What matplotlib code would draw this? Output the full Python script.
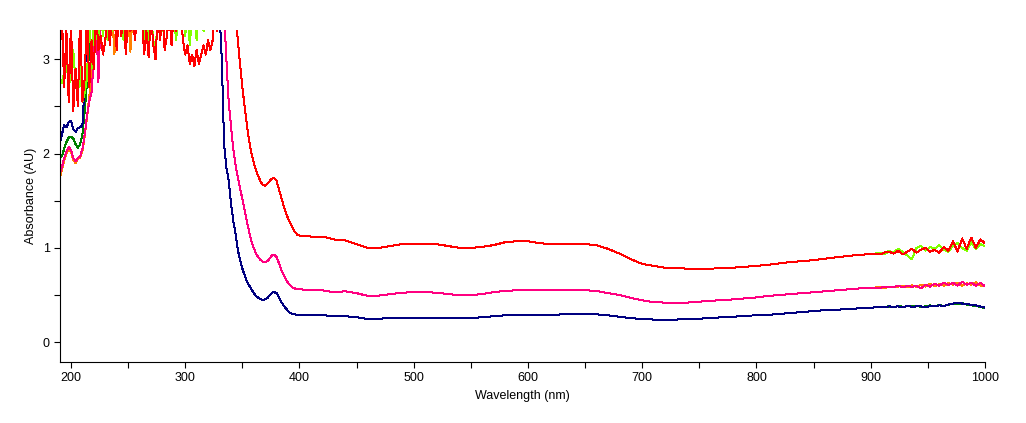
import numpy as np
import matplotlib
matplotlib.use("Agg")
import matplotlib.pyplot as plt
from matplotlib.ticker import MultipleLocator

plt.rcParams['font.family'] = ['Liberation Sans', 'DejaVu Sans']

# wavelength grids (nm)
wl_uv = np.arange(190, 331, 2)     # noisy saturated region
wl_edge = np.arange(332, 401, 2)   # absorption edge
wl_mid = np.arange(410, 901, 10)
wl_ir = np.arange(904, 1001, 4)

# --- top pair (red / light green) ---
red_uv = [3.0, 3.5, 2.7, 3.3, 2.55, 3.4, 2.45, 2.9, 2.5, 3.5,
          2.55, 2.8, 3.5, 2.7, 3.2, 2.9, 3.5, 3.1, 3.25, 3.05,
          3.2, 3.5, 3.15, 3.5, 3.5, 3.1, 3.5, 3.25, 3.5, 3.05,
          3.5, 3.3, 3.5, 3.2, 3.5, 3.5, 3.5, 3.05, 3.3, 3.02,
          3.5, 3.15, 3.0, 3.5, 3.2, 3.5, 3.1, 3.25, 3.5, 3.15,
          3.5, 3.3, 3.5, 3.5, 3.2, 3.05, 3.15, 2.95, 3.05, 2.93,
          3.1, 2.95, 3.05, 3.15, 3.05, 3.2, 3.1, 3.2, 3.5, 3.3,
          3.5]
lgreen_uv = [2.8, 2.75, 2.85, 3.0, 2.7, 2.85, 3.1, 2.75, 2.6, 2.95,
             2.55, 2.65, 2.8, 3.5, 2.9, 3.5, 3.3, 3.15, 3.5, 3.25,
             3.5, 3.2, 3.5, 3.3, 3.5, 3.15, 3.5, 3.5, 3.2, 3.5,
             3.5, 3.5, 3.5, 3.5, 3.5, 3.5, 3.5, 3.2, 3.5, 3.1,
             3.5, 3.2, 3.05, 3.5, 3.5, 3.3, 3.5, 3.5, 3.5, 3.5,
             3.5, 3.2, 3.5, 3.5, 3.5, 3.25, 3.5, 3.15, 3.5, 3.5,
             3.2, 3.5, 3.5, 3.3, 3.5, 3.5, 3.5, 3.5, 3.5, 3.5,
             3.5]
top_edge = [3.5, 3.5, 3.5, 3.5, 3.5, 3.5, 3.5, 3.2, 2.95, 2.7,
            2.5, 2.3, 2.13, 2.0, 1.9, 1.82, 1.76, 1.7, 1.665, 1.66,
            1.68, 1.71, 1.735, 1.74, 1.71, 1.62, 1.54, 1.45, 1.38, 1.31,
            1.26, 1.21, 1.17, 1.14, 1.13]
top_mid = [1.12, 1.12, 1.09, 1.08, 1.04, 1.0, 1.0, 1.02, 1.04, 1.045,
           1.045, 1.04, 1.02, 1.0, 1.0, 1.01, 1.03, 1.06, 1.07, 1.07,
           1.05, 1.04, 1.04, 1.04, 1.04, 1.03, 0.99, 0.94, 0.88, 0.83,
           0.81, 0.79, 0.785, 0.78, 0.78, 0.78, 0.785, 0.79, 0.8, 0.81,
           0.82, 0.835, 0.85, 0.86, 0.87, 0.885, 0.9, 0.915, 0.925, 0.935]
red_ir = [0.94, 0.93, 0.95, 0.96, 0.94, 0.97, 0.93, 0.96, 0.99, 0.95,
          0.98, 1.0, 0.96, 0.98, 0.95, 1.01, 0.97, 1.07, 0.96, 1.1,
          0.99, 1.11, 1.0, 1.09, 1.05]
lgreen_ir = [0.94, 0.95, 0.93, 0.97, 0.95, 0.99, 0.96, 0.92, 0.88, 1.0,
             1.02, 0.97, 1.01, 0.99, 1.03, 0.98, 0.96, 1.02, 1.05, 1.0,
             0.97, 1.06, 0.99, 1.04, 1.02]

# --- middle pair (pink / orange) ---
pink_uv = [1.79, 1.85, 1.95, 2.02, 2.07, 2.04, 1.95, 1.92, 1.95, 1.97,
           2.05, 2.2, 2.4, 2.55, 2.65, 3.0, 3.5, 2.76, 3.5, 3.5,
           3.5, 3.5, 3.5, 3.5, 3.5, 3.2, 3.5, 3.5, 3.5, 3.5,
           3.5, 3.5, 3.5, 3.5, 3.5, 3.5, 3.5, 3.5, 3.5, 3.5,
           3.5, 3.5, 3.5, 3.5, 3.5, 3.5, 3.5, 3.5, 3.5, 3.5,
           3.5, 3.5, 3.5, 3.5, 3.5, 3.5, 3.5, 3.5, 3.5, 3.5,
           3.5, 3.5, 3.5, 3.5, 3.5, 3.5, 3.5, 3.5, 3.5, 3.5,
           3.5]
orange_uv = [1.74, 1.82, 1.93, 2.0, 2.05, 2.02, 1.93, 1.9, 1.94, 1.96,
             2.03, 2.18, 2.38, 2.6, 2.9, 3.5, 3.5, 3.5, 3.5, 3.5,
             3.5, 3.5, 3.5, 3.5, 3.05, 3.5, 3.5, 3.5, 3.5, 3.5,
             3.5, 3.08, 3.5, 3.5, 3.5, 3.5, 3.5, 3.5, 3.5, 3.5,
             3.5, 3.5, 3.5, 3.5, 3.5, 3.5, 3.5, 3.5, 3.5, 3.5,
             3.5, 3.5, 3.5, 3.5, 3.5, 3.5, 3.5, 3.5, 3.5, 3.5,
             3.5, 3.5, 3.5, 3.5, 3.5, 3.5, 3.5, 3.5, 3.5, 3.5,
             3.5]
mid_edge = [3.5, 3.5, 3.0, 2.55, 2.3, 2.05, 1.88, 1.75, 1.63, 1.52,
            1.4, 1.28, 1.17, 1.07, 1.0, 0.94, 0.9, 0.87, 0.855, 0.85,
            0.86, 0.89, 0.92, 0.925, 0.9, 0.84, 0.77, 0.72, 0.67, 0.63,
            0.6, 0.58, 0.57, 0.56, 0.56]
mid_mid = [0.555, 0.55, 0.53, 0.54, 0.52, 0.49, 0.495, 0.51, 0.525, 0.53,
           0.53, 0.525, 0.51, 0.5, 0.5, 0.51, 0.53, 0.545, 0.55, 0.55,
           0.55, 0.55, 0.55, 0.55, 0.55, 0.545, 0.52, 0.5, 0.47, 0.445,
           0.425, 0.42, 0.42, 0.42, 0.43, 0.44, 0.445, 0.455, 0.465, 0.475,
           0.49, 0.5, 0.51, 0.52, 0.53, 0.54, 0.55, 0.56, 0.57, 0.575]
pink_ir = [0.58, 0.575, 0.59, 0.58, 0.585, 0.6, 0.58, 0.6, 0.585, 0.6,
           0.57, 0.61, 0.59, 0.62, 0.6, 0.63, 0.605, 0.63, 0.6, 0.64,
           0.61, 0.63, 0.6, 0.63, 0.595]
orange_ir = [0.58, 0.59, 0.575, 0.59, 0.58, 0.59, 0.6, 0.58, 0.605, 0.585,
             0.61, 0.59, 0.62, 0.595, 0.615, 0.6, 0.625, 0.61, 0.63, 0.6,
             0.625, 0.61, 0.635, 0.6, 0.6]

# --- bottom pair (navy / dark green) ---
navy_uv = [2.09, 2.2, 2.3, 2.28, 2.33, 2.35, 2.26, 2.23, 2.27, 2.28,
           2.3, 2.75, 3.4, 3.5, 3.5, 3.5, 3.5, 3.5, 3.5, 3.5,
           3.5, 3.5, 3.5, 3.5, 3.5, 3.5, 3.5, 3.5, 3.5, 3.5,
           3.5, 3.5, 3.5, 3.5, 3.5, 3.5, 3.5, 3.5, 3.5, 3.5,
           3.5, 3.5, 3.5, 3.5, 3.5, 3.5, 3.5, 3.5, 3.5, 3.5,
           3.5, 3.5, 3.5, 3.5, 3.5, 3.5, 3.5, 3.5, 3.5, 3.5,
           3.5, 3.5, 3.5, 3.5, 3.5, 3.5, 3.5, 3.5, 3.5, 3.5,
           3.5]
dgreen_uv = [1.96, 1.97, 2.05, 2.12, 2.17, 2.18, 2.16, 2.1, 2.06, 2.1,
             2.2, 2.45, 2.75, 3.1, 3.5, 3.5, 3.5, 3.5, 3.5, 3.5,
             3.5, 3.5, 3.5, 3.5, 3.5, 3.5, 3.5, 3.5, 3.5, 3.5,
             3.5, 3.5, 3.5, 3.5, 3.5, 3.5, 3.5, 3.5, 3.5, 3.5,
             3.5, 3.5, 3.5, 3.5, 3.5, 3.5, 3.5, 3.5, 3.5, 3.5,
             3.5, 3.5, 3.5, 3.5, 3.5, 3.5, 3.5, 3.5, 3.5, 3.5,
             3.5, 3.5, 3.5, 3.5, 3.5, 3.5, 3.5, 3.5, 3.5, 3.5,
             3.5]
low_edge = [3.0, 2.1, 1.85, 1.72, 1.48, 1.29, 1.15, 0.98, 0.87, 0.78,
            0.71, 0.64, 0.6, 0.56, 0.52, 0.49, 0.47, 0.455, 0.45, 0.455,
            0.47, 0.5, 0.525, 0.53, 0.52, 0.48, 0.43, 0.39, 0.36, 0.33,
            0.31, 0.3, 0.295, 0.29, 0.285]
low_mid = [0.285, 0.285, 0.28, 0.275, 0.265, 0.245, 0.25, 0.255, 0.26, 0.26,
           0.26, 0.26, 0.26, 0.255, 0.255, 0.265, 0.275, 0.285, 0.29, 0.29,
           0.29, 0.29, 0.295, 0.3, 0.3, 0.295, 0.285, 0.27, 0.255, 0.245,
           0.24, 0.24, 0.24, 0.245, 0.25, 0.255, 0.265, 0.27, 0.28, 0.285,
           0.29, 0.3, 0.31, 0.32, 0.33, 0.34, 0.345, 0.35, 0.36, 0.365]
navy_ir = [0.37, 0.375, 0.37, 0.38, 0.375, 0.38, 0.37, 0.385, 0.375, 0.38,
           0.38, 0.37, 0.385, 0.38, 0.39, 0.385, 0.4, 0.41, 0.42, 0.41,
           0.405, 0.395, 0.39, 0.38, 0.365]
dgreen_ir = [0.37, 0.37, 0.375, 0.38, 0.37, 0.385, 0.375, 0.38, 0.38, 0.385,
             0.375, 0.38, 0.39, 0.38, 0.395, 0.385, 0.395, 0.41, 0.4, 0.415,
             0.4, 0.39, 0.385, 0.375, 0.36]

wl = np.concatenate([wl_uv, wl_edge, wl_mid, wl_ir])

# (uv, edge, mid, ir, colour) in drawing order
series = [
    (dgreen_uv, low_edge, low_mid, dgreen_ir, '#008000'),
    (navy_uv, low_edge, low_mid, navy_ir, '#000080'),
    (orange_uv, mid_edge, mid_mid, orange_ir, '#FF8000'),
    (pink_uv, mid_edge, mid_mid, pink_ir, '#FF0080'),
    (lgreen_uv, top_edge, top_mid, lgreen_ir, '#80FF00'),
    (red_uv, top_edge, top_mid, red_ir, '#FF0000'),
]

fig = plt.figure(figsize=(10.26, 4.23), dpi=100)
ax = fig.add_axes([0.0585, 0.1442, 0.9015, 0.7848])

for uv, edge, mid, ir, col in series:
    y = np.concatenate([uv, edge, mid, ir])
    ax.plot(wl, y, color=col, lw=0.72, antialiased=False)

ax.set_xlim(190.4, 1000)
ax.set_ylim(-0.21, 3.31)

ax.spines['top'].set_visible(False)
ax.spines['right'].set_visible(False)
ax.xaxis.set_major_locator(MultipleLocator(100))
ax.xaxis.set_minor_locator(MultipleLocator(50))
ax.yaxis.set_major_locator(MultipleLocator(1))
ax.yaxis.set_minor_locator(MultipleLocator(0.5))
ax.tick_params(which='both', direction='out', length=4, width=0.8,
               labelsize=9, colors='black')

ax.set_xlabel('Wavelength (nm)', fontsize=9)
ax.set_ylabel('Absorbance (AU)', fontsize=9)

fig.savefig('out.png', dpi=100)
